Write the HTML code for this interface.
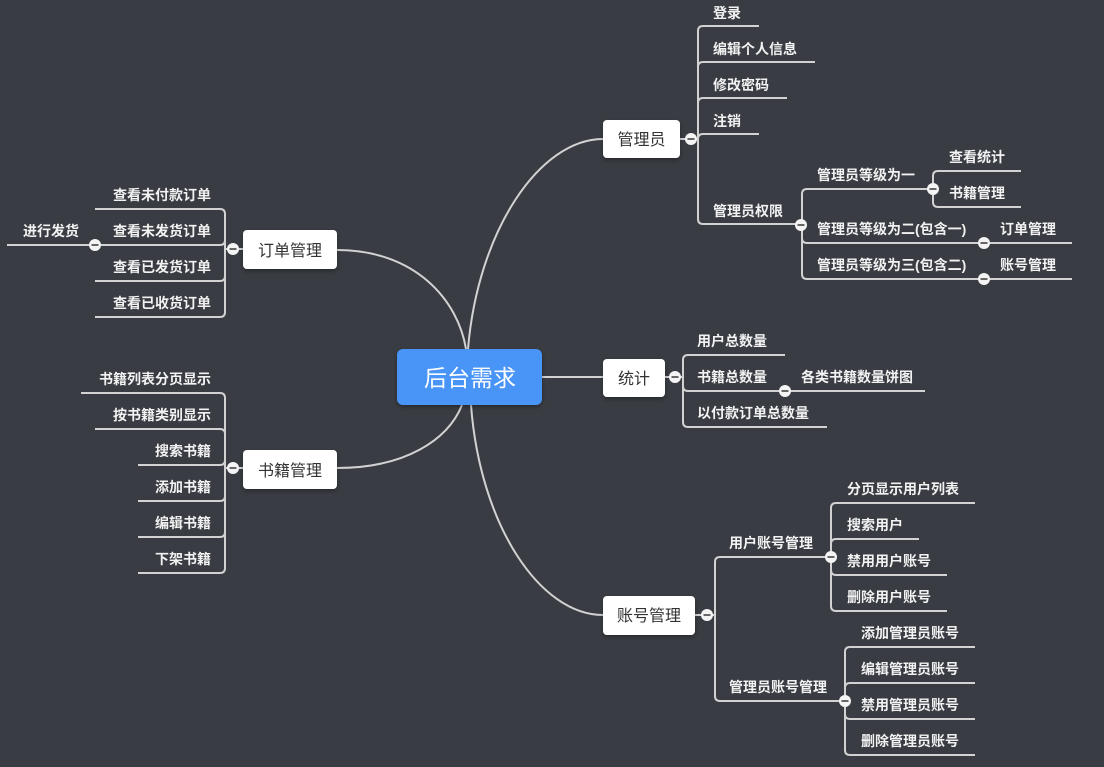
<!DOCTYPE html>
<html><head><meta charset="utf-8"><style>
html,body{margin:0;padding:0;background:#393c42;width:1104px;height:767px;overflow:hidden}
svg{display:block}
text{font-family:"Liberation Sans","Noto Sans CJK SC",sans-serif}
.l{fill:none;stroke:#d2d2d2;stroke-width:2}
.t{fill:#f2f2f2;font-size:14px;font-weight:bold}
.n{fill:#333;font-size:16px}
</style></head><body>
<svg width="1104" height="767" viewBox="0 0 1104 767">
<defs>
<filter id="sh" x="-20%" y="-20%" width="140%" height="160%"><feDropShadow dx="0" dy="2" stdDeviation="2" flood-color="#000" flood-opacity="0.35"/></filter>
<g id="c"><circle r="6" fill="#f4f4f4"/><rect x="-3.5" y="-1" width="7" height="2" fill="#666"/></g>
</defs>
<path class="l" d="M468,349 C478,230 540,139 603,139"/>
<path class="l" d="M337,250 C415,250 458,300 466,349"/>
<path class="l" d="M337,468 C405,468 448,440 462,405"/>
<path class="l" d="M542,377 H603"/>
<path class="l" d="M471,405 C480,525 540,615 603,615"/>

<path class="l" d="M680,139 H698 M698,31 V219 M698,31 Q698,26 703,26 H759 M698,67 Q698,62 703,62 H815 M698,103 Q698,98 703,98 H787 M698,139 Q698,134 703,134 H759 M698,219 Q698,224 703,224 H800"/>
<path class="l" d="M802,194 V274 M802,194 Q802,189 807,189 H933 M802,238 Q802,243 807,243 H1072 M802,274 Q802,279 807,279 H1072"/>
<path class="l" d="M933,176 V202 M933,176 Q933,171 938,171 H1021 M933,202 Q933,207 938,207 H1021"/>
<text class="t" x="713" y="18">登录</text>
<text class="t" x="713" y="54">编辑个人信息</text>
<text class="t" x="713" y="90">修改密码</text>
<text class="t" x="713" y="126">注销</text>
<text class="t" x="713" y="216">管理员权限</text>
<text class="t" x="817" y="180">管理员等级为一</text>
<text class="t" x="817" y="234">管理员等级为二(包含一)</text>
<text class="t" x="817" y="270">管理员等级为三(包含二)</text>
<text class="t" x="949" y="162">查看统计</text>
<text class="t" x="949" y="198">书籍管理</text>
<text class="t" x="1000" y="234">订单管理</text>
<text class="t" x="1000" y="270">账号管理</text>

<path class="l" d="M665,377 H683 M683,360 V422 M683,360 Q683,355 688,355 H785 M683,386 Q683,391 688,391 H925 M683,422 Q683,427 688,427 H827"/>
<text class="t" x="697" y="346">用户总数量</text>
<text class="t" x="697" y="382">书籍总数量</text>
<text class="t" x="697" y="418">以付款订单总数量</text>
<text class="t" x="801" y="382">各类书籍数量饼图</text>

<path class="l" d="M695,615 H715 M715,562 V696 M715,562 Q715,557 720,557 H831 M715,696 Q715,701 720,701 H845"/>
<path class="l" d="M831,508 V606 M831,508 Q831,503 836,503 H975 M831,544 Q831,539 836,539 H919 M831,570 Q831,575 836,575 H947 M831,606 Q831,611 836,611 H947"/>
<path class="l" d="M845,652 V750 M845,652 Q845,647 850,647 H975 M845,688 Q845,683 850,683 H975 M845,714 Q845,719 850,719 H975 M845,750 Q845,755 850,755 H975"/>
<text class="t" x="729" y="548">用户账号管理</text>
<text class="t" x="729" y="692">管理员账号管理</text>
<text class="t" x="847" y="494">分页显示用户列表</text>
<text class="t" x="847" y="530">搜索用户</text>
<text class="t" x="847" y="566">禁用用户账号</text>
<text class="t" x="847" y="602">删除用户账号</text>
<text class="t" x="861" y="638">添加管理员账号</text>
<text class="t" x="861" y="674">编辑管理员账号</text>
<text class="t" x="861" y="710">禁用管理员账号</text>
<text class="t" x="861" y="746">删除管理员账号</text>

<path class="l" d="M243,249 H225 M225,214 V312 M225,214 Q225,209 220,209 H95 M225,240 Q225,245 220,245 H95 M225,276 Q225,281 220,281 H95 M225,312 Q225,317 220,317 H95 M95,245 H7"/>
<g text-anchor="end">
<text class="t" x="211" y="200">查看未付款订单</text>
<text class="t" x="211" y="236">查看未发货订单</text>
<text class="t" x="211" y="272">查看已发货订单</text>
<text class="t" x="211" y="308">查看已收货订单</text>
<text class="t" x="79" y="236">进行发货</text>
</g>

<path class="l" d="M243,468 H225 M225,398 V568 M225,398 Q225,393 220,393 H81 M225,434 Q225,429 220,429 H95 M225,460 Q225,465 220,465 H138 M225,496 Q225,501 220,501 H138 M225,532 Q225,537 220,537 H138 M225,568 Q225,573 220,573 H138"/>
<g text-anchor="end">
<text class="t" x="211" y="384">书籍列表分页显示</text>
<text class="t" x="211" y="420">按书籍类别显示</text>
<text class="t" x="211" y="456">搜索书籍</text>
<text class="t" x="211" y="492">添加书籍</text>
<text class="t" x="211" y="528">编辑书籍</text>
<text class="t" x="211" y="564">下架书籍</text>
</g>

<rect x="397" y="349" width="145" height="56" rx="6" fill="#4a94f7" filter="url(#sh)"/>
<text x="470" y="386" text-anchor="middle" fill="#fff" font-size="23">后台需求</text>
<rect x="603" y="120" width="77" height="38" rx="4" fill="#fff" filter="url(#sh)"/>
<text class="n" x="641.5" y="145" text-anchor="middle">管理员</text>
<rect x="603" y="359" width="62" height="38" rx="4" fill="#fff" filter="url(#sh)"/>
<text class="n" x="634" y="384" text-anchor="middle">统计</text>
<rect x="603" y="596" width="92" height="39" rx="4" fill="#fff" filter="url(#sh)"/>
<text class="n" x="649" y="621" text-anchor="middle">账号管理</text>
<rect x="243" y="230" width="94" height="39" rx="4" fill="#fff" filter="url(#sh)"/>
<text class="n" x="290" y="256" text-anchor="middle">订单管理</text>
<rect x="243" y="450" width="94" height="39" rx="4" fill="#fff" filter="url(#sh)"/>
<text class="n" x="290" y="476" text-anchor="middle">书籍管理</text>

<use href="#c" x="691" y="139"/>
<use href="#c" x="801" y="225"/>
<use href="#c" x="933" y="189"/>
<use href="#c" x="984" y="243"/>
<use href="#c" x="984" y="279"/>
<use href="#c" x="675" y="377"/>
<use href="#c" x="785" y="391"/>
<use href="#c" x="707" y="615"/>
<use href="#c" x="831" y="557"/>
<use href="#c" x="845" y="701"/>
<use href="#c" x="233" y="249"/>
<use href="#c" x="95" y="245"/>
<use href="#c" x="233" y="468"/>
</svg>
</body></html>
